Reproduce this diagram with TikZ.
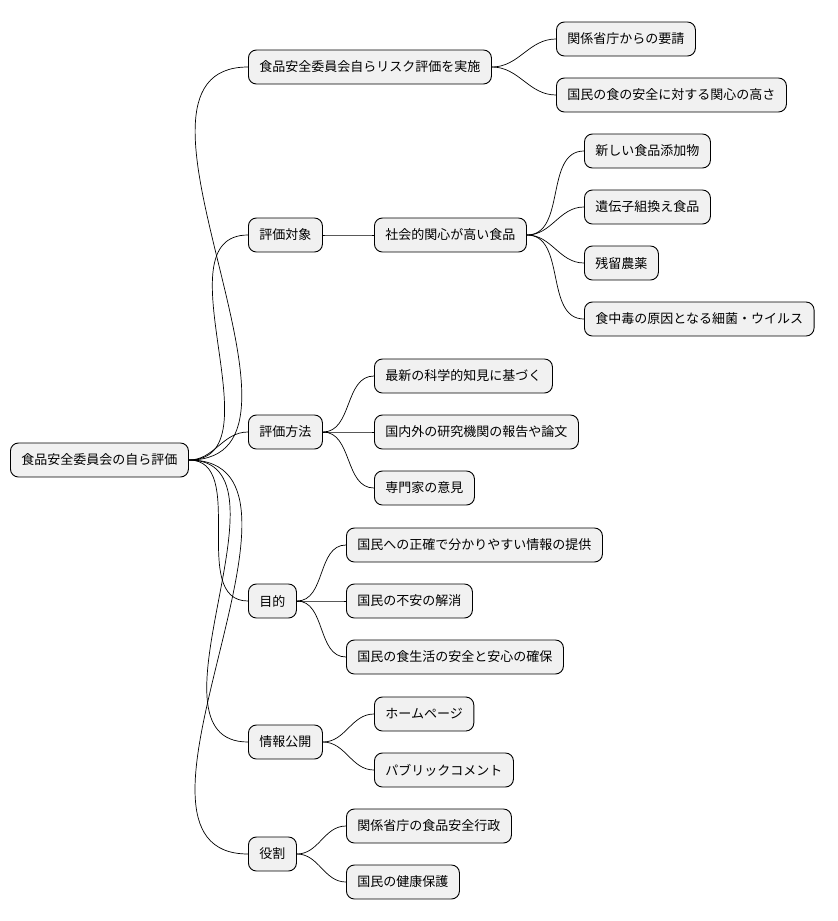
\documentclass[tikz,border=0pt]{standalone}
\usepackage{fontspec}
\setmainfont{Noto Sans CJK JP}
\begin{document}
\begin{tikzpicture}[x=1pt,y=1pt,
  box/.style={draw=black,line width=0.9pt,fill={rgb,255:red,241;green,241;blue,241},rounded corners=8pt,
    minimum height=34pt,inner xsep=11pt,anchor=west,font=\fontsize{13}{15}\selectfont},
  lk/.style={draw=black,line width=0.7pt}]
\useasboundingbox (0,0) rectangle (838,-921);
\node[box] (r) at (10,-460) {食品安全委員会の自ら評価};
\node[box] (a) at (248,-67) {食品安全委員会自らリスク評価を実施};
\node[box] (b) at (248,-235) {評価対象};
\node[box] (c) at (248,-432) {評価方法};
\node[box] (d) at (248,-601) {目的};
\node[box] (e) at (248,-742) {情報公開};
\node[box] (f) at (248,-854) {役割};
\node[box] (a1) at (556,-39) {関係省庁からの要請};
\node[box] (a2) at (556,-95) {国民の食の安全に対する関心の高さ};
\node[box] (b1) at (374,-235) {社会的関心が高い食品};
\node[box] (b11) at (584,-151) {新しい食品添加物};
\node[box] (b12) at (584,-207) {遺伝子組換え食品};
\node[box] (b13) at (584,-263) {残留農薬};
\node[box] (b14) at (584,-319) {食中毒の原因となる細菌・ウイルス};
\node[box] (c1) at (374,-376) {最新の科学的知見に基づく};
\node[box] (c2) at (374,-432) {国内外の研究機関の報告や論文};
\node[box] (c3) at (374,-488) {専門家の意見};
\node[box] (d1) at (346,-545) {国民への正確で分かりやすい情報の提供};
\node[box] (d2) at (346,-601) {国民の不安の解消};
\node[box] (d3) at (346,-657) {国民の食生活の安全と安心の確保};
\node[box] (e1) at (374,-714) {ホームページ};
\node[box] (e2) at (374,-770) {パブリックコメント};
\node[box] (f1) at (346,-826) {関係省庁の食品安全行政};
\node[box] (f2) at (346,-882) {国民の健康保護};
\foreach \p/\c in {r/a,r/b,r/c,r/d,r/e,r/f,a/a1,a/a2,b/b1,b1/b11,b1/b12,b1/b13,b1/b14,c/c1,c/c2,c/c3,d/d1,d/d2,d/d3,e/e1,e/e2,f/f1,f/f2}
  \draw[lk] (\p.east) to[out=0,in=180] (\c.west);
\end{tikzpicture}
\end{document}
